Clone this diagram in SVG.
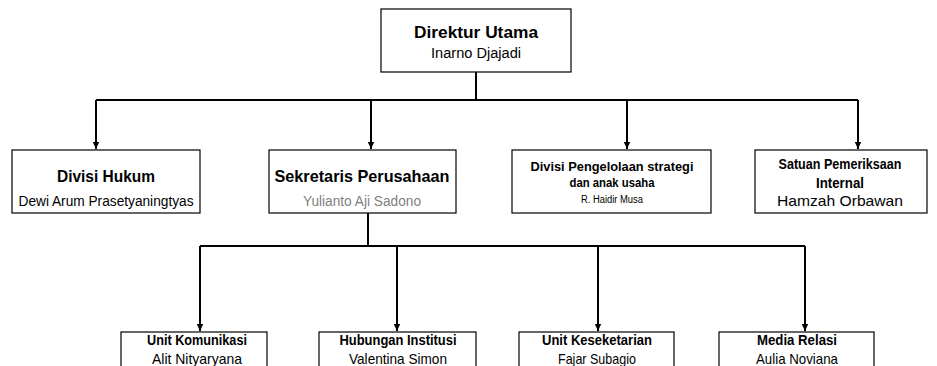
<svg xmlns="http://www.w3.org/2000/svg" width="937" height="366" viewBox="0 0 937 366">
<style>
.box{fill:#fff;stroke:#000;stroke-width:1.2}
.t{font-family:"Liberation Sans",Arial,sans-serif;text-anchor:middle;fill:#000}
.b{font-weight:bold}
.g{fill:#7f7f7f}
.c{fill:none;stroke:#000;stroke-width:2}
</style>
<defs>
<marker id="ar" markerUnits="userSpaceOnUse" markerWidth="8" markerHeight="8" refX="7" refY="4" orient="auto">
<path d="M0,0.8 L7,4 L0,7.2 Z" fill="#000"/>
</marker>
</defs>
<rect width="937" height="366" fill="#fff"/>
<g id="connectors">
<path class="c" d="M476,72 V100"/>
<path class="c" d="M96,100 H858"/>
<path class="c" d="M96,100 V149" marker-end="url(#ar)"/>
<path class="c" d="M371,100 V149" marker-end="url(#ar)"/>
<path class="c" d="M627,100 V149" marker-end="url(#ar)"/>
<path class="c" d="M858,100 V149" marker-end="url(#ar)"/>
<path class="c" d="M368,213 V246"/>
<path class="c" d="M200,246 H805"/>
<path class="c" d="M200,246 V331" marker-end="url(#ar)"/>
<path class="c" d="M397,246 V331" marker-end="url(#ar)"/>
<path class="c" d="M598,246 V331" marker-end="url(#ar)"/>
<path class="c" d="M805,246 V331" marker-end="url(#ar)"/>
</g>
<g id="direktur">
<rect class="box" x="381" y="9" width="190" height="63"/>
<text class="t b" x="476" y="38" font-size="17" textLength="124" lengthAdjust="spacingAndGlyphs">Direktur Utama</text>
<text class="t" x="476" y="58" font-size="14" textLength="90" lengthAdjust="spacingAndGlyphs">Inarno Djajadi</text>
</g>
<g id="hukum">
<rect class="box" x="12" y="150" width="188" height="63"/>
<text class="t b" x="106" y="182" font-size="17" textLength="98" lengthAdjust="spacingAndGlyphs">Divisi Hukum</text>
<text class="t" x="106" y="206" font-size="14" textLength="175" lengthAdjust="spacingAndGlyphs">Dewi Arum Prasetyaningtyas</text>
</g>
<g id="sekretaris">
<rect class="box" x="269" y="150" width="187" height="63"/>
<text class="t b" x="362" y="182" font-size="17" textLength="175" lengthAdjust="spacingAndGlyphs">Sekretaris Perusahaan</text>
<text class="t g" x="362" y="206" font-size="14" textLength="118" lengthAdjust="spacingAndGlyphs">Yulianto Aji Sadono</text>
</g>
<g id="strategi">
<rect class="box" x="512" y="150" width="199" height="63"/>
<text class="t b" x="612" y="171" font-size="13" textLength="163" lengthAdjust="spacingAndGlyphs">Divisi Pengelolaan strategi</text>
<text class="t b" x="612" y="187" font-size="13" textLength="85" lengthAdjust="spacingAndGlyphs">dan anak usaha</text>
<text class="t" x="612" y="203" font-size="10" textLength="62" lengthAdjust="spacingAndGlyphs">R. Haidir Musa</text>
</g>
<g id="spi">
<rect class="box" x="755" y="150" width="172" height="63"/>
<text class="t b" x="840" y="169" font-size="15" textLength="123" lengthAdjust="spacingAndGlyphs">Satuan  Pemeriksaan</text>
<text class="t b" x="840" y="188" font-size="15" textLength="48" lengthAdjust="spacingAndGlyphs">Internal</text>
<text class="t" x="840" y="206" font-size="15" textLength="126" lengthAdjust="spacingAndGlyphs">Hamzah Orbawan</text>
</g>
<g id="komunikasi">
<rect class="box" x="121" y="332" width="146" height="50"/>
<text class="t b" x="197" y="345" font-size="14" textLength="100" lengthAdjust="spacingAndGlyphs">Unit Komunikasi</text>
<text class="t" x="197" y="364" font-size="15" textLength="90" lengthAdjust="spacingAndGlyphs">Alit Nityaryana</text>
</g>
<g id="institusi">
<rect class="box" x="319" y="332" width="157" height="50"/>
<text class="t b" x="398" y="345" font-size="14" textLength="117" lengthAdjust="spacingAndGlyphs">Hubungan Institusi</text>
<text class="t" x="398" y="364" font-size="15" textLength="98" lengthAdjust="spacingAndGlyphs">Valentina Simon</text>
</g>
<g id="kesekretariatan">
<rect class="box" x="519" y="332" width="155" height="50"/>
<text class="t b" x="597" y="345" font-size="14" textLength="110" lengthAdjust="spacingAndGlyphs">Unit Keseketarian</text>
<text class="t" x="597" y="364" font-size="15" textLength="78" lengthAdjust="spacingAndGlyphs">Fajar Subagio</text>
</g>
<g id="media">
<rect class="box" x="719" y="332" width="155" height="50"/>
<text class="t b" x="797" y="345" font-size="14" textLength="80" lengthAdjust="spacingAndGlyphs">Media Relasi</text>
<text class="t" x="797" y="364" font-size="15" textLength="82" lengthAdjust="spacingAndGlyphs">Aulia Noviana</text>
</g>
</svg>
